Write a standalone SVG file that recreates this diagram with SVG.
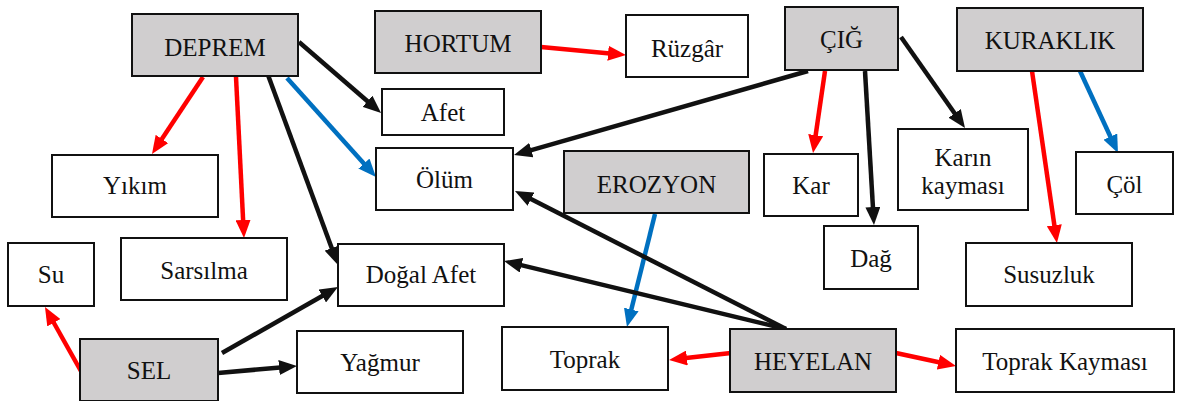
<svg xmlns="http://www.w3.org/2000/svg" width="1177" height="401" viewBox="0 0 1177 401">
<style>
.box{fill:#fff;stroke:#111;stroke-width:2}
.hub{fill:#d0cecf;stroke:#111;stroke-width:2}
text{font-family:"Liberation Serif","Times New Roman",serif;font-size:25px;fill:#111;text-anchor:middle}
.k{stroke:#111;stroke-width:4.5;fill:none;marker-end:url(#ak)}
.r{stroke:#ff0000;stroke-width:4.5;fill:none;marker-end:url(#ar)}
.b{stroke:#0070c0;stroke-width:4.5;fill:none;marker-end:url(#ab)}
</style>
<defs>
<marker id="ak" markerUnits="userSpaceOnUse" markerWidth="18" markerHeight="15" refX="10" refY="7.5" orient="auto"><path d="M0,0 L18,7.5 L0,15 z" fill="#111"/></marker>
<marker id="ar" markerUnits="userSpaceOnUse" markerWidth="18" markerHeight="15" refX="10" refY="7.5" orient="auto"><path d="M0,0 L18,7.5 L0,15 z" fill="#ff0000"/></marker>
<marker id="ab" markerUnits="userSpaceOnUse" markerWidth="18" markerHeight="15" refX="10" refY="7.5" orient="auto"><path d="M0,0 L18,7.5 L0,15 z" fill="#0070c0"/></marker>
</defs>
<rect width="1177" height="401" fill="#fff"/>
<g id="connectors">
<line class="r" x1="203" y1="77" x2="156.4" y2="147.3"/>
<line class="r" x1="236" y1="77" x2="243.6" y2="230"/>
<line class="k" x1="268" y1="75" x2="335.2" y2="257.5"/>
<line class="b" x1="287" y1="78" x2="370.6" y2="171"/>
<line class="k" x1="299" y1="42" x2="375" y2="107.8"/>
<line class="r" x1="541" y1="47" x2="618" y2="54.2"/>
<line class="k" x1="808" y1="71" x2="521.7" y2="152.8"/>
<line class="r" x1="825" y1="71" x2="814.2" y2="145.1"/>
<line class="k" x1="865" y1="71" x2="873.5" y2="217"/>
<line class="k" x1="901" y1="37" x2="960.4" y2="121.5"/>
<line class="r" x1="1032" y1="71" x2="1055.8" y2="235.1"/>
<line class="b" x1="1080" y1="71" x2="1114.6" y2="145.7"/>
<line class="b" x1="655" y1="214" x2="628.9" y2="319.2"/>
<line class="k" x1="786" y1="329" x2="522.1" y2="194.6"/>
<line class="k" x1="786" y1="329" x2="511.8" y2="262.9"/>
<line class="r" x1="731" y1="353" x2="677" y2="359.1"/>
<line class="r" x1="896" y1="353" x2="948.2" y2="364.3"/>
<line class="r" x1="82" y1="373" x2="48.9" y2="314"/>
<line class="k" x1="222" y1="353" x2="331" y2="291"/>
<line class="k" x1="218" y1="373" x2="289" y2="366.7"/>
</g>
<g id="deprem"><rect class="hub" x="132" y="14" width="166" height="62"/><text x="215" y="56">DEPREM</text></g>
<g id="hortum"><rect class="hub" x="375" y="11" width="166" height="62"/><text x="458" y="52">HORTUM</text></g>
<g id="ruzgar"><rect class="box" x="626" y="15" width="122" height="62"/><text x="687" y="57">Rüzgâr</text></g>
<g id="afet"><rect class="box" x="382" y="89" width="122" height="46"/><text x="443" y="121">Afet</text></g>
<g id="olum"><rect class="box" x="376" y="148" width="137" height="62"/><text x="444.5" y="188">Ölüm</text></g>
<g id="erozyon"><rect class="hub" x="564" y="151" width="185" height="62"/><text x="656.5" y="193">EROZYON</text></g>
<g id="cig"><rect class="hub" x="785" y="7" width="113" height="63"/><text x="841.5" y="48">ÇIĞ</text></g>
<g id="kuraklik"><rect class="hub" x="957" y="8" width="186" height="63"/><text x="1050" y="49">KURAKLIK</text></g>
<g id="kar"><rect class="box" x="764" y="154" width="94" height="62"/><text x="811" y="194">Kar</text></g>
<g id="karin"><rect class="box" x="898" y="129" width="130" height="81"/><text x="963" y="166">Karın</text><text x="963" y="194">kayması</text></g>
<g id="col"><rect class="box" x="1076" y="152" width="97" height="62"/><text x="1124.5" y="193">Çöl</text></g>
<g id="dag"><rect class="box" x="824" y="226" width="94" height="63"/><text x="871" y="267">Dağ</text></g>
<g id="susuzluk"><rect class="box" x="966" y="243" width="166" height="63"/><text x="1049" y="283">Susuzluk</text></g>
<g id="toprakkaymasi"><rect class="box" x="956" y="329" width="218" height="63"/><text x="1065" y="370">Toprak Kayması</text></g>
<g id="heyelan"><rect class="hub" x="730" y="329" width="166" height="63"/><text x="813" y="370">HEYELAN</text></g>
<g id="toprak"><rect class="box" x="502" y="327" width="166" height="63"/><text x="585" y="368">Toprak</text></g>
<g id="dogalafet"><rect class="box" x="338" y="244" width="166" height="62"/><text x="421" y="283">Doğal Afet</text></g>
<g id="yagmur"><rect class="box" x="297" y="331" width="166" height="62"/><text x="380" y="371">Yağmur</text></g>
<g id="sel"><rect class="hub" x="80" y="339" width="138" height="62"/><text x="149" y="379">SEL</text></g>
<g id="su"><rect class="box" x="8" y="243" width="86" height="63"/><text x="51" y="283">Su</text></g>
<g id="sarsilma"><rect class="box" x="121" y="238" width="166" height="62"/><text x="204" y="279">Sarsılma</text></g>
<g id="yikim"><rect class="box" x="52" y="155" width="166" height="62"/><text x="135" y="194">Yıkım</text></g>
</svg>
